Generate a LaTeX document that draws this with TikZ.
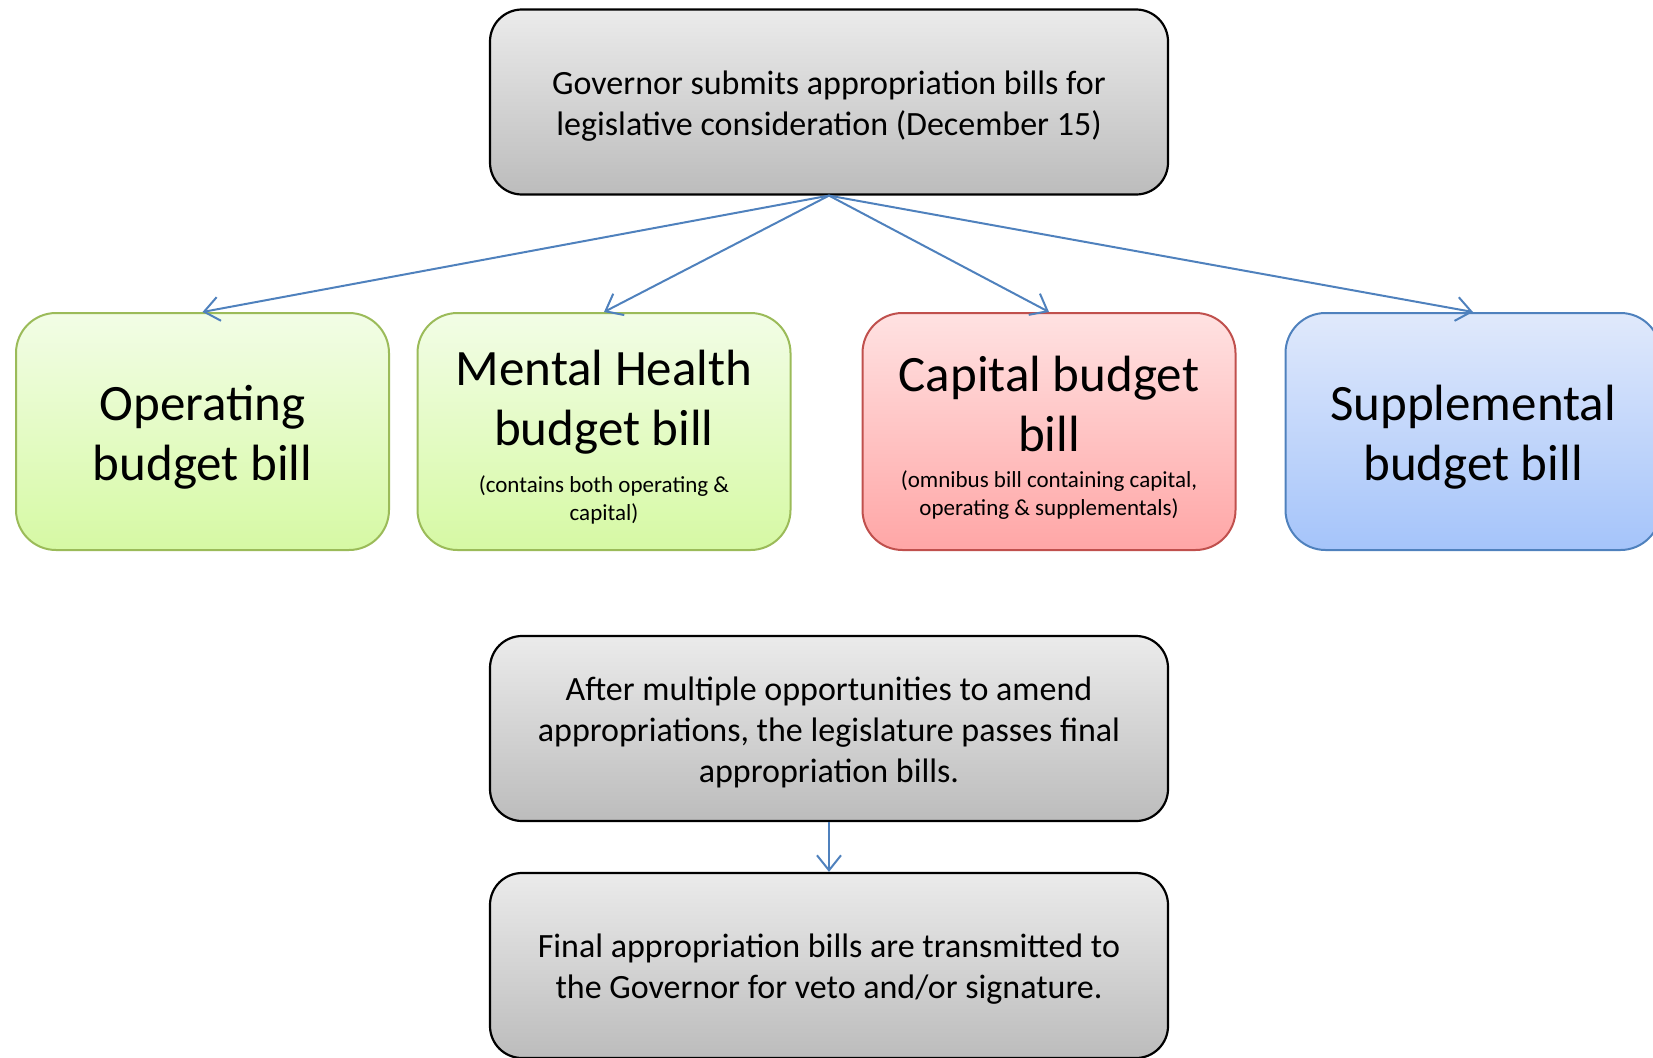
\documentclass[tikz,border=0pt]{standalone}
\usepackage{fontspec}
\setmainfont{Carlito}
\usetikzlibrary{arrows.meta}

\definecolor{flowblue}{HTML}{4F81BD}
\definecolor{greenedge}{HTML}{9BBB59}
\definecolor{rededge}{HTML}{C0504D}
\definecolor{graytop}{HTML}{EBEBEB}
\definecolor{graybot}{HTML}{BCBCBC}
\definecolor{greentop}{HTML}{F2FDE6}
\definecolor{greenbot}{HTML}{D6F9A4}
\definecolor{redtop}{HTML}{FFE2E2}
\definecolor{redbot}{HTML}{FFA6A6}
\definecolor{bluetop}{HTML}{E0E9FB}
\definecolor{bluebot}{HTML}{A5C4FA}

\newcommand{\bigsize}{\fontsize{51}{60}\selectfont}
\newcommand{\smallsize}{\fontsize{23}{28}\selectfont}

\tikzset{
  box/.style={rounded corners=40pt, line width=2pt, inner sep=0pt, shading=axis, shading angle=0},
  % centred text with natural word spaces; the strut sets the height of the first line
  boxtext/.style={execute at begin node={\centering\spaceskip=0pt\xspaceskip=0pt\rule{0pt}{#1}}},
  graybox/.style={box, draw=black, rounded corners=32pt, line width=2.2pt,
    top color=graytop, bottom color=graybot,
    minimum width=678pt, minimum height=185pt, text width=640pt, boxtext=31pt,
    font=\fontsize{34}{41}\selectfont},
  colorbox/.style={box, minimum width=373pt, minimum height=237pt, text width=350pt, boxtext=47pt},
  greenbox/.style={colorbox, draw=greenedge, top color=greentop, bottom color=greenbot},
  redbox/.style={colorbox, draw=rededge, top color=redtop, bottom color=redbot},
  bluebox/.style={colorbox, draw=flowblue, minimum width=375pt, top color=bluetop, bottom color=bluebot},
  bigtxt/.style={font=\bigsize},
  flow/.style={draw=flowblue, line width=2pt, -{Straight Barb[length=15pt,width=24pt]}}
}

\begin{document}
\begin{tikzpicture}[x=1pt,y=-1pt]
  \useasboundingbox (0,0) rectangle (1653,1057);
  \begin{scope}
  \clip (0,0) rectangle (1653,1057);

  \node[graybox] (gov) at (829,102) {Governor submits appropriation bills for\\legislative consideration (December 15)};

  \node[greenbox, bigtxt] (oper) at (202.5,431.5) {Operating\\budget bill};
  \node[greenbox, bigtxt] (mental) at (604,431.5) {Mental Health\\budget bill\\[19pt]{\smallsize (contains both operating \&\\capital)\par}};
  \node[redbox, bigtxt] (capital) at (1049,431.5) {Capital budget\\bill\\[8pt]{\smallsize (omnibus bill containing capital,\\operating \& supplementals)\par}};
  \node[bluebox, bigtxt] (suppl) at (1473,431.5) {Supplemental\\budget bill};

  \node[graybox] (pass) at (829,728.5) {After multiple opportunities to amend\\appropriations, the legislature passes final\\appropriation bills.};
  \node[graybox] (final) at (829,965.5) {Final appropriation bills are transmitted to\\the Governor for veto and/or signature.};

  \draw[flow] (gov.south) -- (oper.north);
  \draw[flow] (gov.south) -- (mental.north);
  \draw[flow] (gov.south) -- (capital.north);
  \draw[flow] (gov.south) -- (suppl.north);
  \draw[flow] (pass.south) -- (final.north);
  \end{scope}
\end{tikzpicture}
\end{document}
